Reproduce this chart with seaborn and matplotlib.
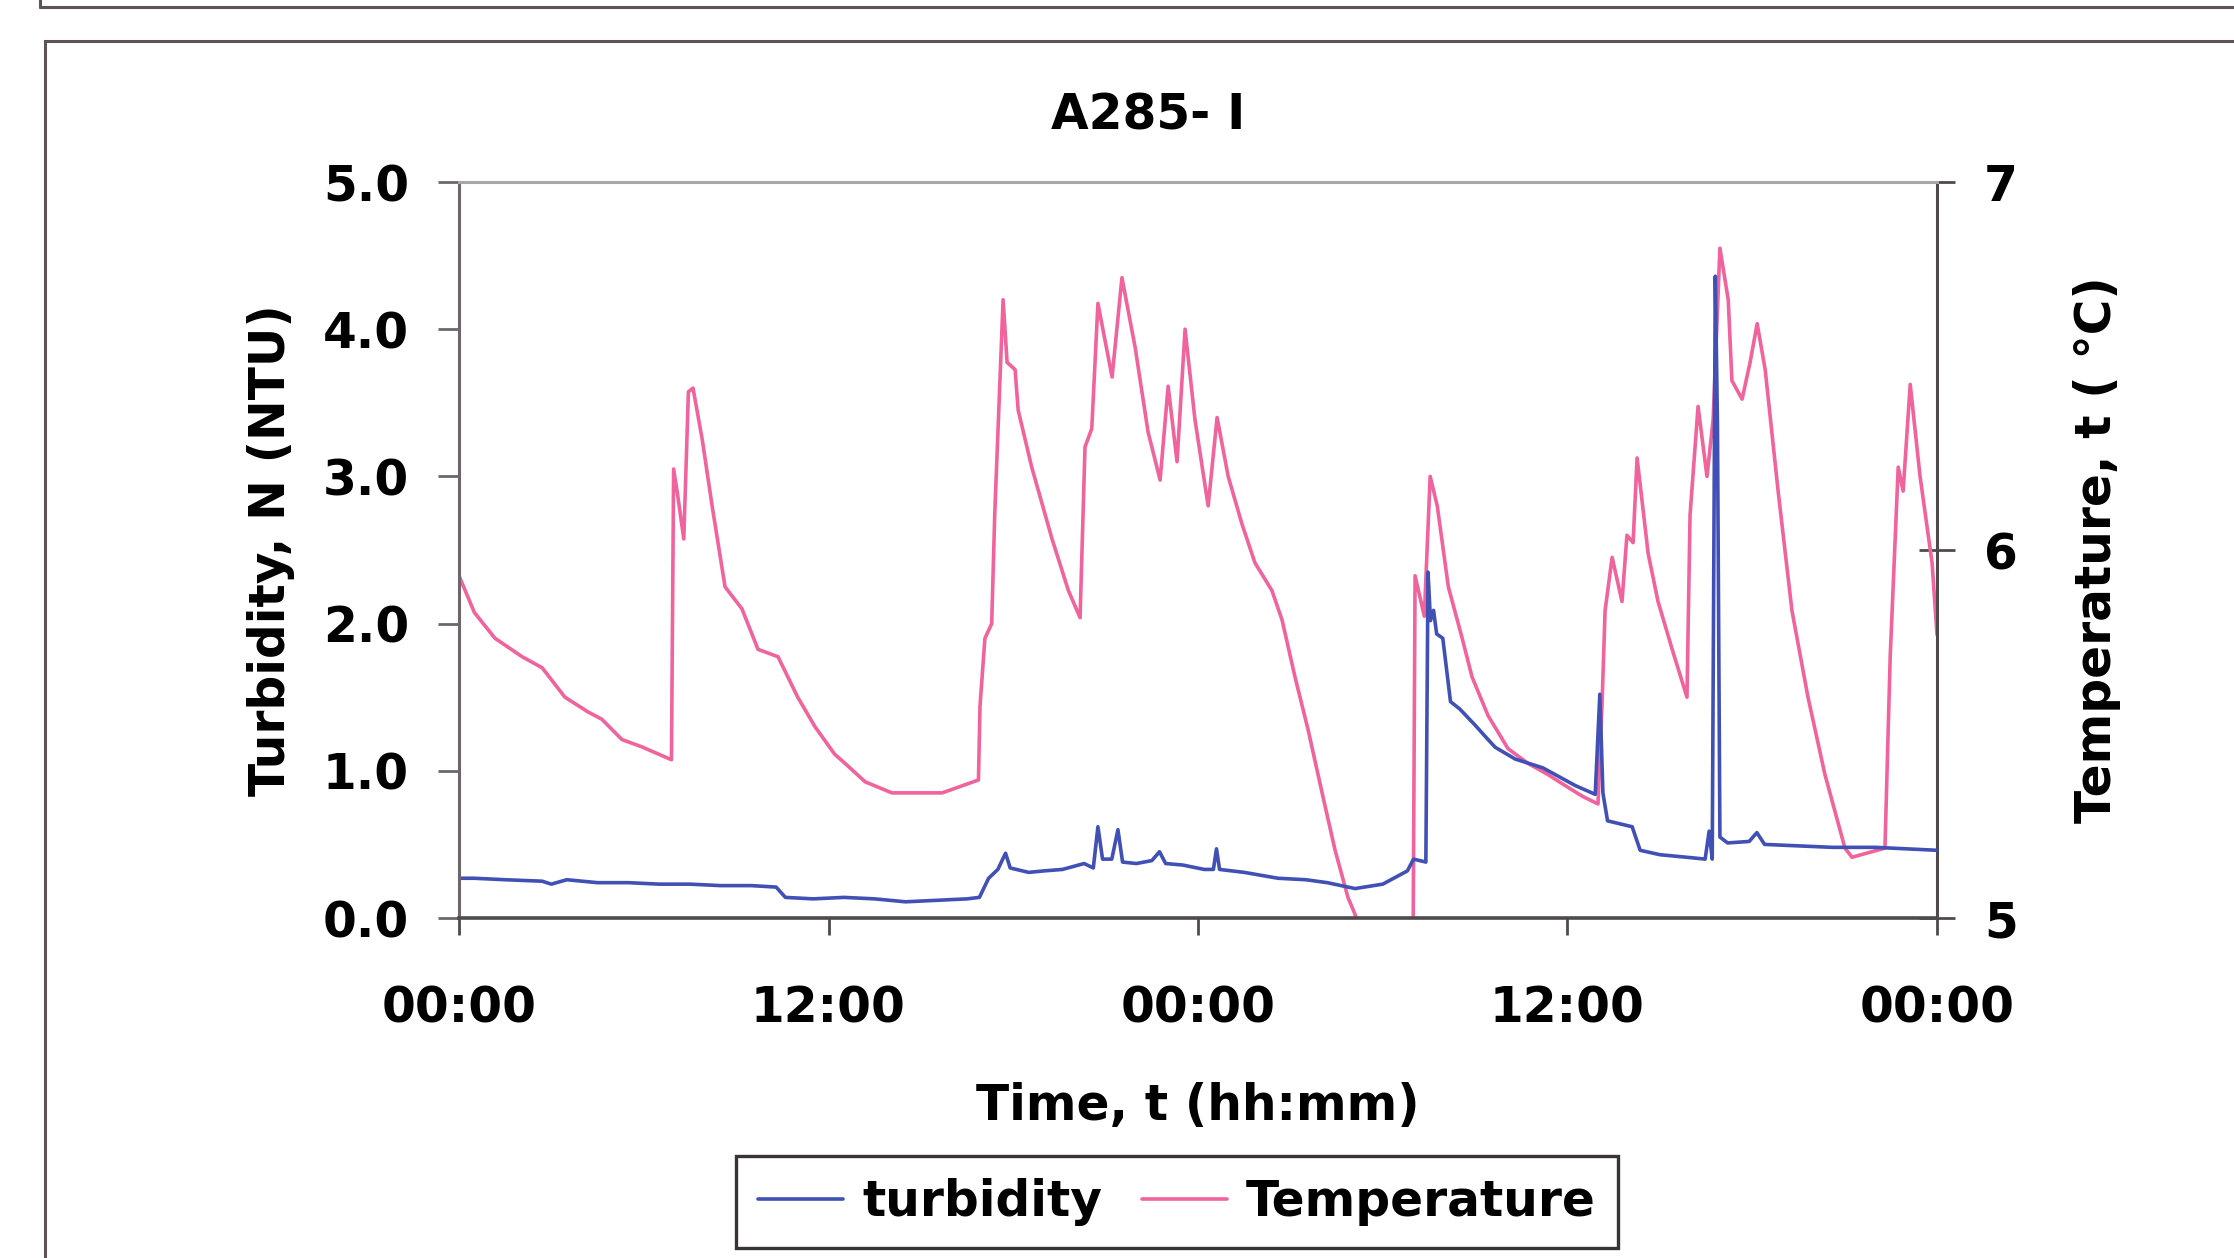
import matplotlib
matplotlib.use("Agg")
import matplotlib.pyplot as plt
import pandas as pd
import seaborn as sns
from matplotlib.lines import Line2D
from matplotlib.patches import Rectangle
from matplotlib.ticker import FixedLocator, FixedFormatter

# ---- data -----------------------------------------------------------------
title = "A285- I"

# turbidity record (hours since start, NTU)
turb_hours = [0.0, 0.5, 1.5, 2.7, 3.0, 3.5, 4.5, 5.5, 6.5, 7.5, 8.5, 9.5, 10.3,
              10.6, 11.5, 12.5, 13.5, 14.0, 14.5, 15.5, 16.5, 16.9, 17.2, 17.5,
              17.75, 17.9, 18.5, 19.0, 19.6, 20.3, 20.6, 20.75, 20.9, 21.2, 21.4,
              21.55, 22.0, 22.5, 22.75, 22.95, 23.5, 24.2, 24.5, 24.6, 24.7, 25.5,
              26.6, 27.5, 28.2, 29.1, 30.0, 30.8, 31.0, 31.4, 31.47, 31.55, 31.65,
              31.75, 31.95, 32.2, 32.5, 33.0, 33.3, 33.65, 34.3, 35.2, 36.25, 36.9,
              37.05, 37.15, 37.3, 38.1, 38.36, 39.0, 40.0, 40.47, 40.6, 40.7, 40.8,
              40.87, 40.95, 41.2, 41.9, 42.15, 42.4, 43.5, 44.6, 46.0, 47.0, 48.0]
turb_ntu = [0.27, 0.27, 0.26, 0.25, 0.23, 0.26, 0.24, 0.24, 0.23, 0.23, 0.22, 0.22, 0.21,
            0.14, 0.13, 0.14, 0.13, 0.12, 0.11, 0.12, 0.13, 0.14, 0.27, 0.33,
            0.44, 0.34, 0.31, 0.32, 0.33, 0.37, 0.34, 0.62, 0.40, 0.40, 0.60,
            0.38, 0.37, 0.39, 0.45, 0.37, 0.36, 0.33, 0.33, 0.47, 0.33, 0.31,
            0.27, 0.26, 0.24, 0.20, 0.23, 0.32, 0.40, 0.38, 2.35, 2.02, 2.09,
            1.93, 1.90, 1.47, 1.42, 1.31, 1.24, 1.16, 1.08, 1.02, 0.90, 0.84,
            1.52, 0.85, 0.66, 0.62, 0.46, 0.43, 0.41, 0.40, 0.59, 0.40, 4.36,
            3.35, 0.55, 0.51, 0.52, 0.58, 0.50, 0.49, 0.48, 0.48, 0.47, 0.46]

# water temperature record (hours since start, deg C)
temp_hours = [0.0, 0.5, 1.17, 2.05, 2.7, 3.44, 4.19, 4.64, 5.29, 5.94, 6.9, 6.97,
              7.1, 7.3, 7.45, 7.6, 7.9, 8.22, 8.64, 9.19, 9.71, 10.36, 11.0, 11.56,
              12.2, 12.54, 13.19, 14.06, 15.69, 16.87, 16.92, 17.08, 17.3, 17.4,
              17.67, 17.8, 18.06, 18.16, 18.6, 19.26, 19.79, 20.17, 20.33, 20.55,
              20.75, 21.21, 21.53, 21.96, 22.38, 22.77, 23.03, 23.32, 23.58, 23.9,
              24.33, 24.62, 24.98, 25.43, 25.85, 26.4, 26.73, 27.15, 27.58, 28.03,
              28.45, 28.87, 29.1, 29.6, 30.97, 31.05, 31.35, 31.54, 31.77, 32.13,
              32.58, 32.9, 33.42, 34.07, 34.72, 35.36, 35.92, 36.5, 36.99, 37.12,
              37.22, 37.45, 37.77, 37.93, 38.13, 38.26, 38.62, 38.94, 39.4, 39.88,
              39.98, 40.24, 40.53, 40.73, 40.95, 41.22, 41.34, 41.67, 41.93, 42.16,
              42.42, 42.84, 43.29, 43.81, 44.36, 45.01, 45.24, 46.31, 46.48, 46.74,
              46.9, 47.13, 47.45, 47.84, 48.0]
temp_c = [5.93, 5.83, 5.76, 5.71, 5.68, 5.60, 5.56, 5.54, 5.485, 5.465, 5.43, 6.22,
          6.15, 6.03, 6.43, 6.44, 6.30, 6.12, 5.90, 5.84, 5.73, 5.71, 5.60, 5.52,
          5.445, 5.42, 5.37, 5.34, 5.34, 5.375, 5.576, 5.76, 5.80, 6.10,
          6.68, 6.51, 6.49, 6.38, 6.225, 6.03, 5.89, 5.816, 6.28, 6.33,
          6.67, 6.47, 6.74, 6.55, 6.32, 6.19, 6.445, 6.24, 6.60, 6.355,
          6.12, 6.36, 6.20, 6.07, 5.965, 5.89, 5.81, 5.655, 5.51, 5.34,
          5.185, 5.056, 5.01, 4.85, 4.70, 5.93, 5.82, 6.20, 6.12, 5.90,
          5.76, 5.655, 5.55, 5.46, 5.42, 5.39, 5.36, 5.33, 5.31, 5.576,
          5.835, 5.98, 5.86, 6.04, 6.02, 6.25, 5.99, 5.86, 5.73, 5.60,
          6.095, 6.39, 6.20, 6.355, 6.82, 6.68, 6.46, 6.41, 6.51, 6.615,
          6.49, 6.16, 5.835, 5.60, 5.39, 5.19, 5.165, 5.19, 5.71, 6.225,
          6.16, 6.45, 6.20, 5.965, 5.77]

x_ticks = [0, 12, 24, 36, 48]
x_tick_labels = ["00:00", "12:00", "00:00", "12:00", "00:00"]
turb_ticks = [0, 1, 2, 3, 4, 5]
temp_ticks = [5, 6, 7]

series_names = ["turbidity", "Temperature"]
x_label = "Time, t (hh:mm)"
turb_label = "Turbidity, N (NTU)"
temp_label = "Temperature, t ( °C)"

# ---- style ----------------------------------------------------------------
sns.set_style("white")
plt.rcParams["font.family"] = ["DejaVu Sans"]
plt.rcParams["font.weight"] = "bold"
plt.rcParams["axes.labelweight"] = "bold"
plt.rcParams["text.color"] = "black"
plt.rcParams["axes.labelcolor"] = "black"

FS = 35
BLUE = "#4050b5"
PINK = "#f0639c"
AXIS_DARK = "#4f4a4c"
FRAME = "#5e5457"
LW = 2.6

W, H = 2234, 1258
fig = plt.figure(figsize=(W / 100, H / 100), dpi=100)
fig.patch.set_facecolor("white")

left, right, top, bottom = 459, 1937, 182, 918
ax = fig.add_axes([left / W, 1 - bottom / H, (right - left) / W, (bottom - top) / H])
ax2 = ax.twinx()

df_turb = pd.DataFrame({"hours": turb_hours, "value": turb_ntu})
df_temp = pd.DataFrame({"hours": temp_hours, "value": temp_c})

sns.lineplot(data=df_temp, x="hours", y="value", ax=ax2, color=PINK, lw=LW,
             legend=False, estimator=None, sort=False)
sns.lineplot(data=df_turb, x="hours", y="value", ax=ax, color=BLUE, lw=LW,
             legend=False, estimator=None, sort=False)

# turbidity trace drawn above the temperature trace
ax.set_zorder(ax2.get_zorder() + 1)
ax.patch.set_visible(False)

ax.set_xlim(0, 48)
ax.set_ylim(0, 5)
ax2.set_ylim(5, 7)

ax.xaxis.set_major_locator(FixedLocator(x_ticks))
ax.xaxis.set_major_formatter(FixedFormatter(x_tick_labels))
ax.yaxis.set_major_locator(FixedLocator(turb_ticks))
ax.yaxis.set_major_formatter(FixedFormatter([f"{v:.1f}" for v in turb_ticks]))
ax2.yaxis.set_major_locator(FixedLocator(temp_ticks))
ax2.yaxis.set_major_formatter(FixedFormatter([str(v) for v in temp_ticks]))

# spines
for a in (ax, ax2):
    for s in a.spines.values():
        s.set_visible(False)
ax.spines["left"].set_visible(True)
ax.spines["left"].set_color("#6f666b")
ax.spines["left"].set_linewidth(2.2)
ax.spines["bottom"].set_visible(True)
ax.spines["bottom"].set_color(AXIS_DARK)
ax.spines["bottom"].set_linewidth(2.6)
ax.spines["top"].set_visible(True)
ax.spines["top"].set_color("#aaa6a4")
ax.spines["top"].set_linewidth(2.2)
ax2.spines["right"].set_visible(True)
ax2.spines["right"].set_color(AXIS_DARK)
ax2.spines["right"].set_linewidth(2.2)

ax.tick_params(axis="y", left=True, direction="out", length=15, width=2,
               color="#6f666b", pad=21, labelsize=FS, labelcolor="black")
ax.tick_params(axis="x", bottom=True, direction="out", length=12, width=2,
               color=AXIS_DARK, pad=36, labelsize=FS, labelcolor="black")
ax2.tick_params(axis="y", right=True, direction="inout", length=26, width=2,
                color=AXIS_DARK, pad=21, labelsize=FS, labelcolor="black")

ax.set_xlabel(x_label, fontsize=FS, fontweight="bold")
ax.xaxis.set_label_coords(0.5, (bottom - 1106) / (bottom - top))
ax.xaxis.label.set_va("center")

ax.set_ylabel(turb_label, fontsize=FS, fontweight="bold")
ax.yaxis.set_label_coords((271 - left) / (right - left), 0.5)
ax.yaxis.label.set_va("center")

ax2.set_ylabel(temp_label, fontsize=FS, fontweight="bold")
ax2.yaxis.set_label_coords((2097 - left) / (right - left), 0.5)
ax2.yaxis.label.set_va("center")

fig.text(1148 / W, 1 - 115 / H, title, ha="center", va="center",
         fontsize=FS, fontweight="bold", color="black")

handles = [ax.get_lines()[0], ax2.get_lines()[0]]
leg = fig.legend(handles, series_names, loc="center",
                 bbox_to_anchor=(1177 / W, 1 - 1202 / H), ncol=2,
                 prop={"size": FS, "weight": "bold"}, frameon=True,
                 fancybox=False, framealpha=1, edgecolor="#3a3335",
                 handlelength=1.75, handletextpad=0.4, columnspacing=0.8,
                 borderpad=0.45)
leg.get_frame().set_linewidth(2.4)
for t in leg.get_texts():
    t.set_color("black")

# chart-area borders
fig.add_artist(Rectangle((45 / W, -0.2), 1.5, 1.2 - 41 / H, transform=fig.transFigure,
                         fill=False, edgecolor=FRAME, linewidth=2.2))
fig.add_artist(Line2D([40 / W, 1.0], [1 - 7 / H, 1 - 7 / H], transform=fig.transFigure,
                      color=FRAME, linewidth=2.2))
fig.add_artist(Line2D([40 / W, 40 / W], [1 - 7 / H, 1.0], transform=fig.transFigure,
                      color=FRAME, linewidth=2.2))

fig.savefig("out.png", dpi=100, facecolor=fig.get_facecolor())
